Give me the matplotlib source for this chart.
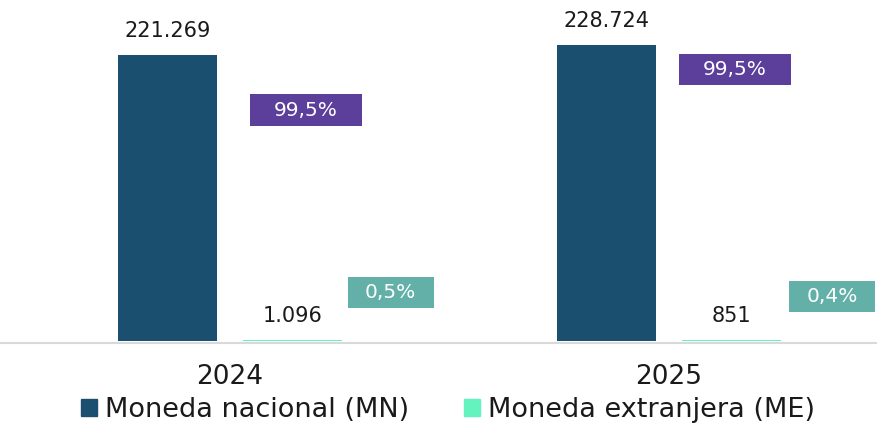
import matplotlib
matplotlib.use("Agg")
import matplotlib.pyplot as plt
from matplotlib.patches import Patch, Rectangle

years = ["2024", "2025"]
mn_values = [221269, 228724]
me_values = [1096, 851]
mn_labels = ["221.269", "228.724"]
me_labels = ["1.096", "851"]
mn_share = ["99,5%", "99,5%"]
me_share = ["0,5%", "0,4%"]

c_mn = "#1b4f6f"
c_me = "#64f3bf"
c_mn_box = "#5c3f9b"
c_me_box = "#62b0a8"

plt.rcParams['font.family'] = ['DejaVu Sans']

fig = plt.figure(figsize=(8.78, 4.23), dpi=100)
ax = fig.add_axes([0, 82 / 423, 1, 341 / 423])

x = list(range(len(years)))
w = 0.225
off = 0.143
ax.bar([i - off for i in x], mn_values, w, color=c_mn, zorder=3)
ax.bar([i + off for i in x], me_values, w, color=c_me, zorder=3)

ax.set_xlim(-0.524, 1.476)
ax.set_ylim(0, 263800)

# value labels above the bars
for i in x:
    ax.annotate(mn_labels[i], (i - off, mn_values[i]), xytext=(0, 10),
                textcoords="offset points", ha="center", va="bottom",
                fontsize=15, color="#1a1a1a")
    ax.annotate(me_labels[i], (i + off, me_values[i]), xytext=(0, 10),
                textcoords="offset points", ha="center", va="bottom",
                fontsize=15, color="#1a1a1a")

# share boxes (placed by hand next to the bars): centre x offset, centre y
box_h = 24000
mn_box_pos = [(0.173, 178700), (0.150, 210000)]
me_box_pos = [(0.366, 37500), (0.371, 34400)]
mn_box_w = 0.255
me_box_w = 0.196
for i in x:
    for (dx, yv), bw, txt, fc in [(mn_box_pos[i], mn_box_w, mn_share[i], c_mn_box),
                                  (me_box_pos[i], me_box_w, me_share[i], c_me_box)]:
        ax.add_patch(Rectangle((i + dx - bw / 2, yv - box_h / 2), bw, box_h,
                               fc=fc, ec="none", zorder=4))
        ax.text(i + dx, yv, txt, ha="center", va="center", fontsize=14.5,
                color="white", zorder=5)

for s in ["top", "right", "left"]:
    ax.spines[s].set_visible(False)
ax.spines["bottom"].set_color("#d9d9d9")
ax.spines["bottom"].set_linewidth(1.5)
ax.spines["bottom"].set_position(("outward", 1.2))
ax.set_yticks([])
ax.set_xticks(x)
ax.set_xticklabels(years, fontsize=19, color="#1a1a1a")
ax.tick_params(axis="x", length=0, pad=15)

handles = [Patch(color=c_mn, label="Moneda nacional (MN)"),
           Patch(color=c_me, label="Moneda extranjera (ME)")]
fig.legend(handles=handles, loc="center", bbox_to_anchor=(448 / 878, 1 - 410 / 423),
           ncol=2, frameon=False, fontsize=19.5, handlelength=0.6,
           handleheight=0.6, handletextpad=0.3, columnspacing=2.0,
           labelcolor="#1a1a1a", borderpad=0)

fig.savefig("out.png", dpi=100)
